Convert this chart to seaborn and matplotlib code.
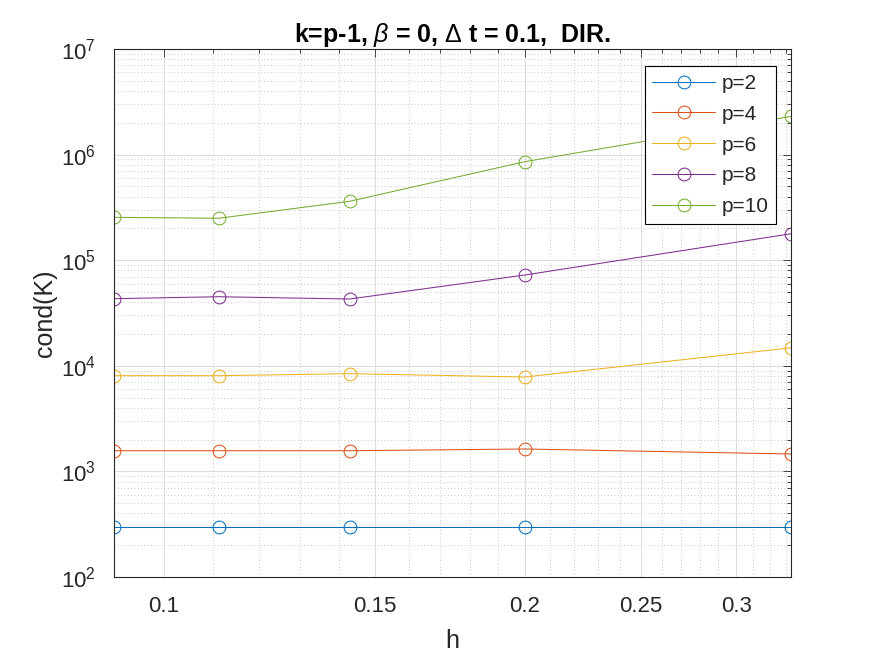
import numpy as np
import pandas as pd
import matplotlib
matplotlib.use("Agg")
import matplotlib.pyplot as plt
import seaborn as sns
from matplotlib.ticker import FixedLocator, NullFormatter, LogLocator, LogFormatterMathtext

# ---- data ----
h = [1/11, 1/9, 1/7, 1/5, 1/3]
p_labels = ["p=2", "p=4", "p=6", "p=8", "p=10"]
cond_p2 = [298, 298, 298, 298, 298]
cond_p4 = [1570, 1570, 1570, 1630, 1462]
cond_p6 = [8060, 8060, 8420, 7830, 14800]
cond_p8 = [43200, 45100, 42900, 72400, 178000]
cond_p10 = [254700, 249500, 361000, 857000, 2300000]
series = [cond_p2, cond_p4, cond_p6, cond_p8, cond_p10]
colors = ["#0072BD", "#D95319", "#EDB120", "#7E2F8E", "#77AC30"]

x_major = [0.1, 0.15, 0.2, 0.25, 0.3]
x_major_labels = ["0.1", "0.15", "0.2", "0.25", "0.3"]

sns.set_theme(style="white")
plt.rcParams['font.family'] = ['Liberation Sans', 'DejaVu Sans']
plt.rcParams['mathtext.fontset'] = 'custom'
plt.rcParams['mathtext.rm'] = 'Liberation Sans'
plt.rcParams['mathtext.it'] = 'Liberation Sans:italic'
plt.rcParams['mathtext.bf'] = 'Liberation Sans:bold'

fig = plt.figure(figsize=(8.75, 6.56), dpi=100)
ax = fig.add_axes([114/875, 1 - 577/656, (791 - 114)/875, (577 - 49)/656])

for vals, lab, col in zip(series, p_labels, colors):
    df = pd.DataFrame({"h": h, "cond": vals})
    sns.lineplot(data=df, x="h", y="cond", ax=ax, color=col, marker="o",
                 markersize=9.2, markerfacecolor="none", markeredgecolor=col,
                 markeredgewidth=0.75, linewidth=0.75, label=lab)

ax.set_xscale("log")
ax.set_yscale("log")
ax.set_xlim(h[0], h[-1])
ax.set_ylim(1e2, 1e7)

ax.xaxis.set_major_locator(FixedLocator(x_major))
ax.set_xticklabels(x_major_labels)
minor_x = [v / 100 for v in range(10, 34) if v not in (10, 15, 20, 25, 30)]
ax.xaxis.set_minor_locator(FixedLocator(minor_x))
ax.xaxis.set_minor_formatter(NullFormatter())
ax.yaxis.set_major_locator(LogLocator(base=10, numticks=10))
ax.yaxis.set_major_formatter(LogFormatterMathtext())
ax.yaxis.set_minor_locator(LogLocator(base=10, subs=np.arange(2, 10), numticks=20))
ax.yaxis.set_minor_formatter(NullFormatter())

tc = "#262626"
ax.tick_params(which="both", direction="in", top=True, right=True, colors=tc,
               labelcolor=tc, width=0.6)
ax.tick_params(which="major", length=6, labelsize=16)
ax.tick_params(axis="x", which="major", pad=14)
ax.tick_params(axis="y", which="major", pad=13)
ax.tick_params(which="minor", length=3)

ax.grid(True, which="major", color="#dcdcdc", linestyle="-", linewidth=0.7)
ax.grid(True, which="minor", color="#b8b8b8", linestyle=(0, (1, 3)), linewidth=0.6)
ax.set_axisbelow(True)
for s in ax.spines.values():
    s.set_color(tc)
    s.set_linewidth(0.8)

ax.set_xlabel("h", fontsize=18, color=tc, labelpad=8)
ax.set_ylabel("cond(K)", fontsize=18, color=tc, labelpad=3)
ax.set_title(r"k=p-1, $\beta$ = 0, $\Delta$ t = 0.1,  DIR.", fontsize=18,
             fontweight="bold", color="black", pad=5)

leg = ax.legend(loc="upper right", bbox_to_anchor=(0.978, 0.968), fontsize=15,
                frameon=True, fancybox=False, edgecolor="black", framealpha=1,
                handlelength=3.0, handletextpad=0.3, borderpad=0.38,
                labelspacing=0.57, borderaxespad=0)
leg.get_frame().set_linewidth(0.8)

fig.savefig("out.png", dpi=100)
